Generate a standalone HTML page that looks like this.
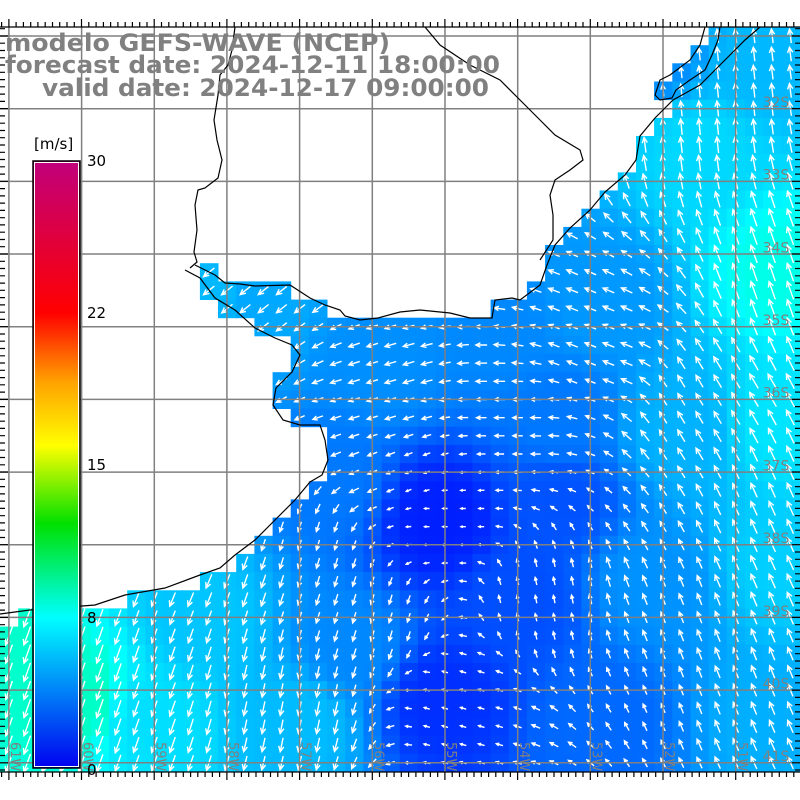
<!DOCTYPE html>
<html><head><meta charset="utf-8"><style>
html,body{margin:0;padding:0;background:#fff;width:800px;height:800px;overflow:hidden}
svg{display:block}
</style></head><body>
<svg id="s" width="800" height="800" xmlns="http://www.w3.org/2000/svg"></svg>
<script>
var S=18.17,Y0=27;
var L=[39,38,37,36,37,36,35,35,34,33,32,31,30,30,29,27,14,16,16,15,15,16,18,18,18,17,16,15,14,13,11,7,1,0,0,0,0,0,0,0,0];
function ocean(r,c){
 if(c>=L[r])return true;
 if(r==13&&c==11)return true;
 if(r==14&&c>=11&&c<=15)return true;
 if(r==15&&c>=12&&c<=17)return true;
 return false;}
var SA=[[440,520,1.0],[440,700,1.5],[520,600,2.5],[600,720,3.3],[780,720,5.5],[780,560,6.5],[780,420,7.2],[780,270,8.3],[700,150,6.8],[600,300,4.8],[500,330,4.3],[380,360,4.5],[250,300,5.3],[220,290,5.8],[330,480,3.8],[200,620,6.2],[80,700,8.8],[0,650,8.7],[350,650,4.3],[650,50,4.3],[760,60,5.8],[680,430,5.6],[560,420,3.8],[300,720,5.9],[560,500,2.6],[650,580,4.6],[150,720,7.0]];
var VA=[[100,700,-0.35,1],[300,700,-0.2,1],[380,620,-0.3,1],[440,520,-1,0],[380,400,-1,0.3],[250,300,-1,0.8],[600,350,-1,-0.4],[700,400,-0.6,-1],[780,270,-0.35,-1],[700,100,-0.1,-1],[700,650,-0.4,-1],[780,500,-0.45,-1],[460,700,-1,-0.3],[540,600,-0.2,-1],[500,420,-1,0],[400,480,-1,0.4],[320,560,-0.3,1]];
function idw(x,y,A,k){var sw=0,sv=0;for(var i=0;i<A.length;i++){var d=(x-A[i][0])*(x-A[i][0])+(y-A[i][1])*(y-A[i][1])+1;var w=1/(d*d);sw+=w;sv+=w*A[i][k];}return sv/sw;}
function col(s){var r,g,b;
 if(s<=8){r=0;g=255*s/8;b=255;}
 else if(s<=11.5){var t=(s-8)/3.5;r=0;g=255;b=255*(1-t);}
 else{var t=Math.min(1,(s-11.5)/3.5);r=255*t;g=255;b=0;}
 return 'rgb('+(r|0)+','+(g|0)+','+(b|0)+')';}
var h=[];
for(var r=0;r<41;r++)for(var c=0;c<45;c++){if(!ocean(r,c))continue;
 var cx=c*S+S/2,cy=Y0+r*S+S/2;var s=idw(cx,cy,SA,2);
 h.push('<rect x="'+(c*S).toFixed(1)+'" y="'+(Y0+r*S).toFixed(1)+'" width="18.6" height="18.6" fill="'+col(s)+'"/>');}
var a=[];
for(var r=0;r<41;r++)for(var c=0;c<45;c++){if(!ocean(r,c))continue;
 var cx=c*S+S/2,cy=Y0+r*S+S/2;var s=idw(cx,cy,SA,2)+0.8;
 var u=idw(cx,cy,VA,2),v=idw(cx,cy,VA,3);var n=Math.sqrt(u*u+v*v)||1;u/=n;v/=n;
 var Ln=1.5+s*1.9;var tx=cx-u*Ln/2,ty=cy-v*Ln/2,hx=cx+u*Ln/2,hy=cy+v*Ln/2;
 var hl=Math.min(6,Ln*0.45),an=0.45;
 var b1x=hx-hl*(u*Math.cos(an)-v*Math.sin(an)),b1y=hy-hl*(v*Math.cos(an)+u*Math.sin(an));
 var b2x=hx-hl*(u*Math.cos(an)+v*Math.sin(an)),b2y=hy-hl*(v*Math.cos(an)-u*Math.sin(an));
 a.push('M'+tx.toFixed(1)+' '+ty.toFixed(1)+'L'+hx.toFixed(1)+' '+hy.toFixed(1)+'M'+b1x.toFixed(1)+' '+b1y.toFixed(1)+'L'+hx.toFixed(1)+' '+hy.toFixed(1)+'L'+b2x.toFixed(1)+' '+b2y.toFixed(1));}
h.push('<path d="'+a.join('')+'" stroke="#fff" stroke-width="1.4" fill="none"/>');
var g='';for(var i=0;i<11;i++){var p=8.9+i*72.68;g+='M'+p.toFixed(1)+' 27V772M0 '+(36+i*72.68).toFixed(1)+'H800';}
h.push('<path d="'+g+'" stroke="#808080" stroke-width="1.5" fill="none"/>');
var coast=[
'M760 27L745 40L727 58L700 85L673 100L655 118L640 136L636 160L625 175L605 192L590 210L570 228L555 245L547 265L540 285L520 300L512 298L495 300L492 318L470 318L450 313L420 310L400 312L378 318L360 320L345 316L340 310L325 305L310 298L290 285L255 286L240 284L225 283L215 275L205 270L195 265',
'M185 270L200 278L215 298L235 310L255 328L275 338L292 345L300 355L292 372L276 388L273 405L283 420L300 425L320 425L325 440L328 460L322 475L310 482L295 500L275 520L255 540L235 555L220 568L200 575L165 588L125 595L95 605L30 610L0 614',
'M235 27L232 50L228 65L220 75L218 95L214 120L217 140L222 160L218 178L205 188L198 190L195 205L197 230L194 252L197 262L190 268',
'M540 260L553 240L553 215L550 195L555 180L570 170L583 160L580 150L555 135L540 120L520 100L500 80L470 65L440 45L425 27',
'M705 27L700 45L690 60L670 75L660 80L655 95L660 100L672 98L676 90L690 80L705 70L712 55L718 40L720 27'];
h.push('<path d="'+coast.join('')+'" stroke="#000" stroke-width="1.2" fill="none"/>');
var t='M0 27H800M0 772H800';
for(var i=0;i<110;i++){var x=1.6+i*7.268;if(x>800)break;var mj=(i%10==1);t+='M'+x.toFixed(1)+' 27v'+(mj?-8:-5)+'M'+x.toFixed(1)+' 772v'+(mj?8:5);}
for(var i=0;i<103;i++){var y=28.7+i*7.268;if(y>772)break;var mj=(i%10==1);t+='M0 '+y.toFixed(1)+'h'+(mj?8:5)+'M800 '+y.toFixed(1)+'h'+(mj?-8:-5);}
h.push('<path d="'+t+'" stroke="#000" stroke-width="1.2" fill="none"/>');
var lab='';var lats=['32S','33S','34S','35S','36S','37S','38S','39S','40S','41S'];
for(var i=0;i<10;i++){lab+='<text x="776" y="'+(107+i*72.68).toFixed(1)+'" font-size="14" fill="#808080" text-anchor="middle">'+lats[i]+'</text>';}
for(var i=0;i<11;i++){var x=11+i*72.68;lab+='<text transform="translate('+x.toFixed(1)+',742) rotate(90)" font-size="13" fill="#808080">'+(61-i)+'W</text>';}
h.push('<g font-family="DejaVu Sans, sans-serif">'+lab+'</g>');
h.push('<defs><linearGradient id="cb" x1="0" y1="1" x2="0" y2="0"><stop offset="0" stop-color="#0000f0"/><stop offset="0.248" stop-color="#00ffff"/><stop offset="0.403" stop-color="#00e000"/><stop offset="0.531" stop-color="#ffff00"/><stop offset="0.638" stop-color="#ffa000"/><stop offset="0.75" stop-color="#ff0000"/><stop offset="1" stop-color="#c0007c"/></linearGradient></defs>');
h.push('<rect x="33" y="161" width="47" height="607" fill="url(#cb)" stroke="#000" stroke-width="1.5"/><rect x="34.5" y="162.5" width="44" height="604" fill="none" stroke="#fff" stroke-width="1"/>');
h.push('<g font-family="DejaVu Sans, sans-serif" font-size="15" fill="#000"><text x="34" y="149">[m/s]</text><text x="87" y="166">30</text><text x="87" y="318">22</text><text x="87" y="470">15</text><text x="87" y="623">8</text><text x="87" y="775">0</text></g>');
h.push('<g font-family="DejaVu Sans, sans-serif" font-weight="bold" font-size="24" fill="#808080"><text x="5" y="51" textLength="385" lengthAdjust="spacingAndGlyphs">modelo GEFS-WAVE (NCEP)</text><text x="5" y="73" textLength="495" lengthAdjust="spacingAndGlyphs">forecast date: 2024-12-11 18:00:00</text><text x="42" y="96" textLength="447" lengthAdjust="spacingAndGlyphs">valid date: 2024-12-17 09:00:00</text></g>');
document.getElementById('s').innerHTML=h.join('');
</script>
</body></html>
